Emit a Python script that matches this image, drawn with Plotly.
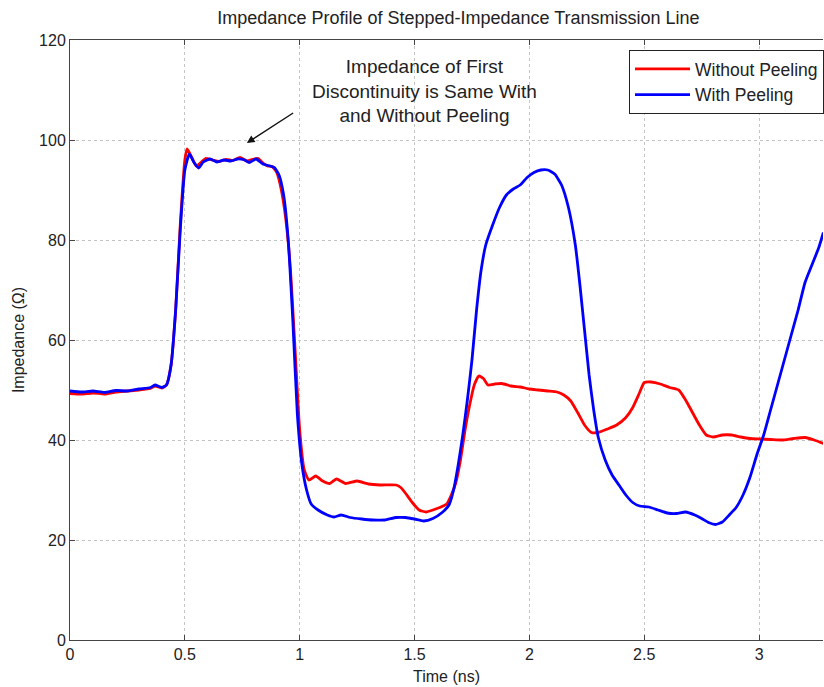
import plotly.graph_objects as go

# ---- data ----
t_without = [0.00, 0.05, 0.10, 0.15, 0.20, 0.25, 0.30, 0.35, 0.37, 0.40, 0.42, 0.44, 0.46, 0.48, 0.50, 0.51,
             0.53, 0.55, 0.57, 0.59, 0.62, 0.65, 0.68, 0.71, 0.74, 0.77, 0.80, 0.82, 0.84, 0.86, 0.88, 0.90,
             0.92, 0.94, 0.96, 0.98, 1.00, 1.02, 1.04, 1.07, 1.10, 1.13, 1.16, 1.20, 1.25, 1.30, 1.35, 1.42,
             1.44, 1.46, 1.49, 1.52, 1.55, 1.58, 1.61, 1.64, 1.66, 1.68, 1.70, 1.72, 1.74, 1.76, 1.78, 1.80,
             1.82, 1.85, 1.88, 1.92, 1.96, 2.00, 2.04, 2.08, 2.12, 2.15, 2.18, 2.21, 2.24, 2.27, 2.30, 2.34,
             2.38, 2.42, 2.45, 2.48, 2.50, 2.53, 2.57, 2.61, 2.65, 2.68, 2.71, 2.74, 2.77, 2.80, 2.84, 2.88,
             2.92, 2.96, 3.00, 3.05, 3.10, 3.15, 3.20, 3.24, 3.28]
z_without = [49.3, 49.2, 49.4, 49.2, 49.6, 49.8, 50.0, 50.3, 50.8, 50.4, 51.0, 55.0, 66.0, 83.0, 96.0, 98.2,
             96.5, 94.8, 95.5, 96.3, 96.0, 95.7, 96.1, 95.9, 96.5, 95.8, 96.2, 96.3, 95.4, 94.8, 94.7, 93.5,
             90.0, 84.0, 74.0, 58.0, 42.0, 34.0, 32.0, 32.8, 31.8, 31.3, 32.2, 31.3, 31.8, 31.2, 31.0, 31.0,
             30.5, 29.4, 27.5, 26.0, 25.6, 26.0, 26.5, 27.2, 29.0, 31.5, 36.0, 42.0, 47.0, 51.0, 52.8, 52.3,
             51.0, 51.2, 51.3, 50.8, 50.6, 50.2, 50.0, 49.8, 49.6, 49.0, 47.8, 45.5, 43.0, 41.5, 41.5, 42.2,
             43.0, 44.5, 46.5, 49.5, 51.5, 51.6, 51.2, 50.5, 50.0, 48.0, 45.5, 43.0, 41.0, 40.6, 41.0, 41.0,
             40.6, 40.3, 40.2, 40.1, 40.0, 40.3, 40.5, 40.0, 39.3]

t_with = [0.00, 0.05, 0.10, 0.15, 0.20, 0.25, 0.30, 0.35, 0.37, 0.40, 0.42, 0.44, 0.46, 0.48, 0.50, 0.52,
          0.54, 0.56, 0.58, 0.61, 0.64, 0.67, 0.70, 0.73, 0.76, 0.78, 0.81, 0.84, 0.87, 0.89, 0.91, 0.93,
          0.95, 0.97, 0.99, 1.01, 1.03, 1.05, 1.08, 1.12, 1.15, 1.18, 1.22, 1.27, 1.32, 1.37, 1.42, 1.46,
          1.50, 1.54, 1.58, 1.62, 1.65, 1.67, 1.69, 1.71, 1.73, 1.75, 1.77, 1.79, 1.81, 1.84, 1.87, 1.90,
          1.93, 1.96, 1.99, 2.02, 2.05, 2.08, 2.11, 2.14, 2.17, 2.20, 2.22, 2.24, 2.26, 2.28, 2.30, 2.33,
          2.36, 2.39, 2.42, 2.45, 2.48, 2.52, 2.56, 2.60, 2.64, 2.68, 2.72, 2.75, 2.78, 2.81, 2.84, 2.87,
          2.90, 2.93, 2.96, 2.99, 3.02, 3.05, 3.08, 3.11, 3.14, 3.17, 3.20, 3.23, 3.26, 3.28]
z_with = [49.8, 49.6, 49.8, 49.5, 49.9, 49.8, 50.2, 50.5, 51.0, 50.5, 51.0, 55.0, 66.0, 82.0, 94.0, 97.2,
          95.5, 94.4, 95.6, 96.2, 95.6, 96.0, 95.8, 96.2, 96.0, 95.5, 96.2, 95.2, 94.8, 94.5, 93.0, 89.0,
          80.0, 64.0, 45.0, 35.0, 30.0, 27.2, 26.0, 25.0, 24.6, 25.0, 24.5, 24.2, 24.0, 24.0, 24.5, 24.5,
          24.2, 23.8, 24.3, 25.5, 27.0, 30.0, 35.0, 41.0, 48.0, 56.0, 66.0, 74.0, 79.0, 83.0, 86.5, 89.0,
          90.2, 91.0, 92.5, 93.5, 94.0, 94.0, 93.2, 91.0, 86.5, 79.0, 71.0, 62.0, 53.0, 46.0, 40.5, 36.0,
          33.0, 31.0, 29.0, 27.5, 26.8, 26.6, 26.0, 25.4, 25.3, 25.6, 25.0, 24.3, 23.5, 23.1, 23.6, 25.0,
          26.5, 29.0, 32.5, 37.0, 41.0, 46.0, 51.0, 56.0, 61.0, 66.0, 71.5, 75.0, 78.5, 81.5]

x_ticks = [0, 0.5, 1, 1.5, 2, 2.5, 3]
x_tick_labels = ["0", "0.5", "1", "1.5", "2", "2.5", "3"]
y_ticks = [0, 20, 40, 60, 80, 100, 120]

FONT = "Liberation Sans, Arial, sans-serif"

fig = go.Figure()
fig.add_trace(go.Scatter(x=t_without, y=z_without, mode="lines", name="Without Peeling",
                         line=dict(color="#ff0000", width=2.8, shape="spline", smoothing=0.5)))
fig.add_trace(go.Scatter(x=t_with, y=z_with, mode="lines", name="With Peeling",
                         line=dict(color="#0000ff", width=2.8, shape="spline", smoothing=0.5)))

axis_common = dict(showline=True, linecolor="#444444", linewidth=1, ticks="inside", ticklen=5,
                   tickcolor="#444444", showgrid=True, gridcolor="#c4c4c4", griddash="dot",
                   gridwidth=1, zeroline=False, tickfont=dict(family=FONT, size=16, color="#222222"))

fig.update_xaxes(range=[0, 754 / 230], tickvals=x_ticks, ticktext=x_tick_labels, mirror="ticks",
                 title=dict(text="Time (ns)", font=dict(family=FONT, size=16, color="#222222"), standoff=8),
                 **axis_common)
fig.update_yaxes(range=[0, 120], tickvals=y_ticks, mirror=False,
                 title=dict(text="Impedance (Ω)", font=dict(family=FONT, size=16, color="#222222"), standoff=10),
                 **axis_common)

fig.add_annotation(text="Impedance of First<br>Discontinuity is Same With<br>and Without Peeling",
                   xref="paper", yref="paper", x=(425 - 70) / 754, y=(640 - 91) / 600,
                   xanchor="center", yanchor="middle", showarrow=False,
                   font=dict(family=FONT, size=19, color="#222222"))
fig.add_annotation(x=0.77, y=99.4, ax=0.978, ay=105.6, xref="x", yref="y", axref="x", ayref="y",
                   text="", showarrow=True, arrowhead=2, arrowsize=1.1, arrowwidth=1.4,
                   arrowcolor="#111111")

fig.update_layout(
    width=824, height=687,
    margin=dict(l=70, r=0, t=40, b=47),
    paper_bgcolor="white", plot_bgcolor="white",
    title=dict(text="Impedance Profile of Stepped-Impedance Transmission Line",
               font=dict(family=FONT, size=18, color="#222222"),
               x=(459 - 70) / 754, xref="paper", xanchor="center",
               y=1 - 18 / 687, yref="container", yanchor="middle"),
    legend=dict(x=(630 - 70) / 754, y=(640 - 50) / 600, xanchor="left", yanchor="top",
                bgcolor="white", bordercolor="#222222", borderwidth=1, itemwidth=55,
                font=dict(family=FONT, size=17.5, color="#222222"), tracegroupgap=0),
    showlegend=True,
)

fig.write_html("out.html")
